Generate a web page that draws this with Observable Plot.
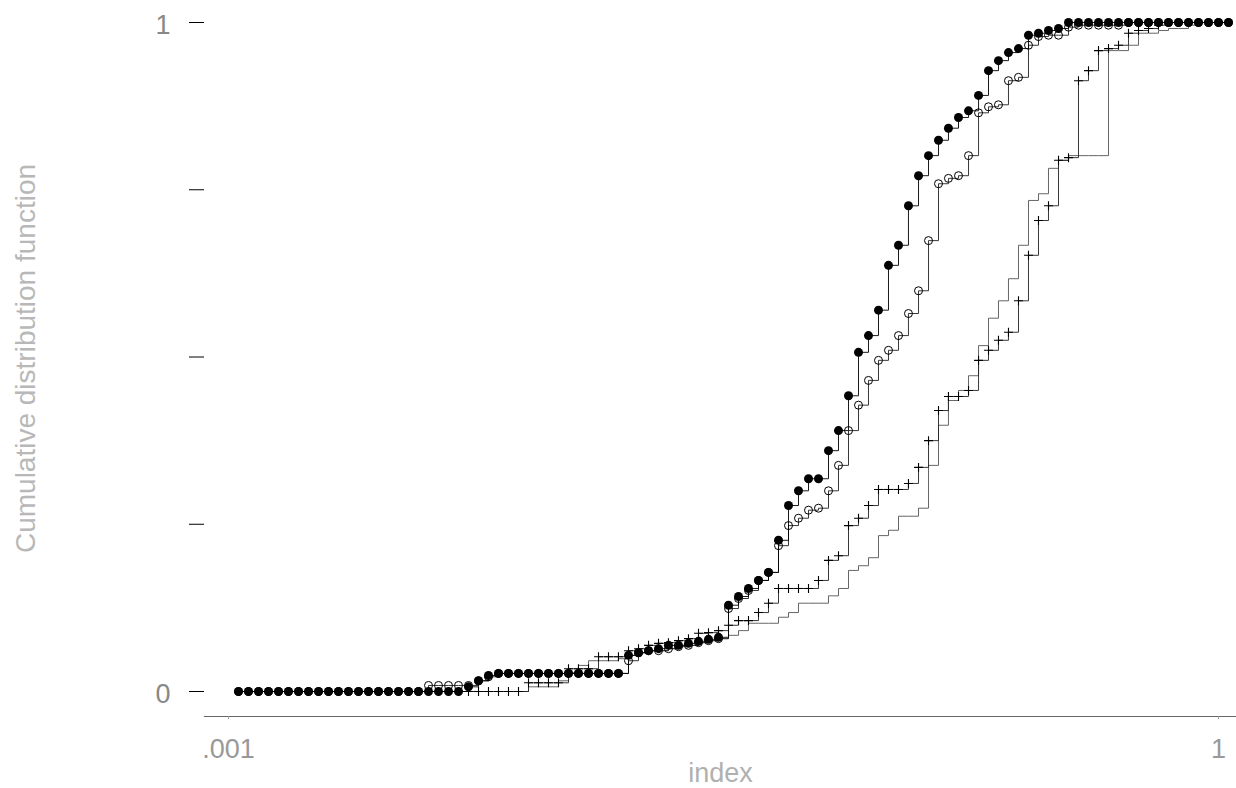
<!DOCTYPE html>
<html>
<head>
<meta charset="utf-8">
<script src="https://cdn.jsdelivr.net/npm/d3@7"></script>
<script src="https://cdn.jsdelivr.net/npm/@observablehq/plot@0.6"></script>
<style>
html, body { margin: 0; padding: 0; background: #fff; }
</style>
</head>
<body>
<div id="chart"></div>
<script>
// Evaluation points (log-spaced index values, 0.001 .. 1)
const grid = [
  1.000e-3,1.072e-3,1.150e-3,1.233e-3,1.322e-3,1.417e-3,1.520e-3,1.630e-3,1.748e-3,1.874e-3,
  2.009e-3,2.154e-3,2.310e-3,2.477e-3,2.656e-3,2.848e-3,3.054e-3,3.275e-3,3.511e-3,3.765e-3,
  4.037e-3,4.329e-3,4.642e-3,4.977e-3,5.337e-3,5.722e-3,6.136e-3,6.579e-3,7.055e-3,7.565e-3,
  8.111e-3,8.697e-3,9.326e-3,
  1.000e-2,1.072e-2,1.150e-2,1.233e-2,1.322e-2,1.417e-2,1.520e-2,1.630e-2,1.748e-2,1.874e-2,
  2.009e-2,2.154e-2,2.310e-2,2.477e-2,2.656e-2,2.848e-2,3.054e-2,3.275e-2,3.511e-2,3.765e-2,
  4.037e-2,4.329e-2,4.642e-2,4.977e-2,5.337e-2,5.722e-2,6.136e-2,6.579e-2,7.055e-2,7.565e-2,
  8.111e-2,8.697e-2,9.326e-2,
  1.000e-1,1.072e-1,1.150e-1,1.233e-1,1.322e-1,1.417e-1,1.520e-1,1.630e-1,1.748e-1,1.874e-1,
  2.009e-1,2.154e-1,2.310e-1,2.477e-1,2.656e-1,2.848e-1,3.054e-1,3.275e-1,3.511e-1,3.765e-1,
  4.037e-1,4.329e-1,4.642e-1,4.977e-1,5.337e-1,5.722e-1,6.136e-1,6.579e-1,7.055e-1,7.565e-1,
  8.111e-1,8.697e-1,9.326e-1,
  1
];

// Series A: filled circles
const cdfA = [
  0,0,0,0,0,0,0,0,0,0,
  0,0,0,0,0,0,0,0,0,0,
  0,0,0,0.007,0.016,0.024,0.027,0.027,0.027,0.027,
  0.027,0.027,0.027,0.027,0.027,0.027,0.027,0.027,0.027,0.054,
  0.058,0.061,0.064,0.069,0.069,0.072,0.075,0.078,0.081,0.129,
  0.142,0.154,0.166,0.178,0.226,0.278,0.300,0.318,0.318,0.360,
  0.390,0.442,0.507,0.532,0.570,0.637,0.667,0.726,0.771,0.801,
  0.824,0.842,0.858,0.868,0.891,0.928,0.943,0.955,0.961,0.981,
  0.984,0.988,0.991,1,1,1,1,1,1,1,
  1,1,1,1,1,1,1,1,1,1
];

// Series B: hollow circles
const cdfB = [
  0,0,0,0,0,0,0,0,0,0,
  0,0,0,0,0,0,0,0,0,0.009,
  0.009,0.009,0.009,0.009,0.016,0.022,0.027,0.027,0.027,0.027,
  0.027,0.027,0.027,0.027,0.027,0.027,0.027,0.027,0.027,0.046,
  0.058,0.061,0.061,0.064,0.067,0.069,0.073,0.076,0.079,0.124,
  0.139,0.151,0.166,0.178,0.218,0.248,0.259,0.271,0.274,0.300,
  0.338,0.390,0.428,0.465,0.495,0.510,0.532,0.565,0.599,0.674,
  0.759,0.767,0.771,0.801,0.865,0.874,0.877,0.913,0.918,0.966,
  0.979,0.981,0.981,0.993,0.996,0.996,0.996,0.996,0.996,1,
  1,1,1,1,1,1,1,1,1,1
];

// Series C: plus markers
const cdfC = [
  0,0,0,0,0,0,0,0,0,0,
  0,0,0,0,0,0,0,0,0,0,
  0,0,0,0,0,0,0,0,0,0.013,
  0.013,0.013,0.013,0.034,0.034,0.034,0.052,0.052,0.052,0.061,
  0.064,0.069,0.072,0.073,0.076,0.079,0.087,0.088,0.091,0.099,
  0.106,0.106,0.118,0.132,0.154,0.154,0.154,0.154,0.166,0.196,
  0.203,0.248,0.259,0.278,0.302,0.302,0.302,0.311,0.335,0.375,
  0.420,0.441,0.441,0.450,0.495,0.510,0.525,0.537,0.584,0.652,
  0.704,0.726,0.794,0.798,0.913,0.928,0.958,0.961,0.966,0.984,
  0.988,0.991,0.996,1,1,1,1,1,1,1
];

// Series D: plain line
const cdfD = [
  0,0,0,0,0,0,0,0,0,0,
  0,0,0,0,0,0,0,0,0,0,
  0,0,0,0,0,0,0,0,0,0.007,
  0.007,0.007,0.016,0.028,0.039,0.046,0.046,0.046,0.049,0.054,
  0.058,0.061,0.061,0.064,0.069,0.069,0.073,0.076,0.079,0.084,
  0.091,0.102,0.102,0.102,0.111,0.118,0.132,0.132,0.132,0.143,
  0.154,0.181,0.188,0.200,0.233,0.241,0.262,0.262,0.274,0.338,
  0.398,0.435,0.450,0.472,0.517,0.558,0.584,0.617,0.667,0.734,
  0.744,0.782,0.794,0.801,0.801,0.801,0.801,0.958,0.958,0.966,
  0.984,0.984,0.988,0.991,0.991,0.996,1,1,1,1
];

const xTicks = [0.001, 1];
const xTickLabels = [".001", "1"];
const yTicks = [0, 0.25, 0.5, 0.75, 1];
const yTickLabels = ["0", "", "", "", "1"];
const xLabel = "index";
const yLabel = "Cumulative distribution function";

const rows = (vals) => grid.map((x, i) => ({x, y: vals[i]}));
const A = rows(cdfA), B = rows(cdfB), C = rows(cdfC), D = rows(cdfD);

const chart = Plot.plot({
  width: 1236,
  height: 788,
  marginTop: 0,
  marginRight: 0,
  marginBottom: 72,
  marginLeft: 204,
  style: {fontFamily: "'Liberation Sans', Arial, sans-serif", background: "#fff"},
  x: {type: "log", domain: [0.001, 1], range: [238, 1228]},
  y: {domain: [0, 1], range: [691, 22]},
  marks: [
    Plot.frame({anchor: "bottom", stroke: "#666", strokeWidth: 1.2}),
    // y tick marks
    Plot.axisY({ticks: yTicks, tickFormat: () => "", tickSize: 15, stroke: "#000", label: null}),
    // y tick labels (slightly below the tick, as in the reference)
    Plot.axisY({ticks: yTicks, tickFormat: (d) => yTickLabels[yTicks.indexOf(d)], tickSize: 0, tickPadding: 34, fontSize: 27, fill: "#888", label: null, dy: 3}),
    Plot.axisX({ticks: xTicks, tickFormat: (d) => xTickLabels[xTicks.indexOf(d)], tickSize: 3, tickPadding: 19, fontSize: 27, fill: "#999", stroke: "#999", label: null, dx: -10}),
    Plot.text([yLabel], {text: (d) => d, frameAnchor: "left", textAnchor: "middle", lineAnchor: "middle", rotate: -90, dx: -178, fontSize: 28, fill: "#b8b8b8"}),
    Plot.text([xLabel], {text: (d) => d, frameAnchor: "bottom", textAnchor: "middle", lineAnchor: "middle", dy: 57, fontSize: 27, fill: "#b0b0b0"}),
    Plot.line(D, {x: "x", y: "y", curve: "step-after", stroke: "#555", strokeWidth: 0.9}),
    Plot.line(C, {x: "x", y: "y", curve: "step-after", stroke: "#222", strokeWidth: 0.9}),
    Plot.dot(C, {x: "x", y: "y", symbol: "plus", r: 3, stroke: "#000", strokeWidth: 1.1}),
    Plot.line(B, {x: "x", y: "y", curve: "step-after", stroke: "#222", strokeWidth: 0.9}),
    Plot.dot(B, {x: "x", y: "y", r: 4, stroke: "#000", fill: "none", strokeWidth: 1}),
    Plot.line(A, {x: "x", y: "y", curve: "step-after", stroke: "#000", strokeWidth: 0.9}),
    Plot.dot(A, {x: "x", y: "y", r: 4.5, fill: "#000", stroke: "none"})
  ]
});
document.getElementById("chart").appendChild(chart);
</script>
</body>
</html>
